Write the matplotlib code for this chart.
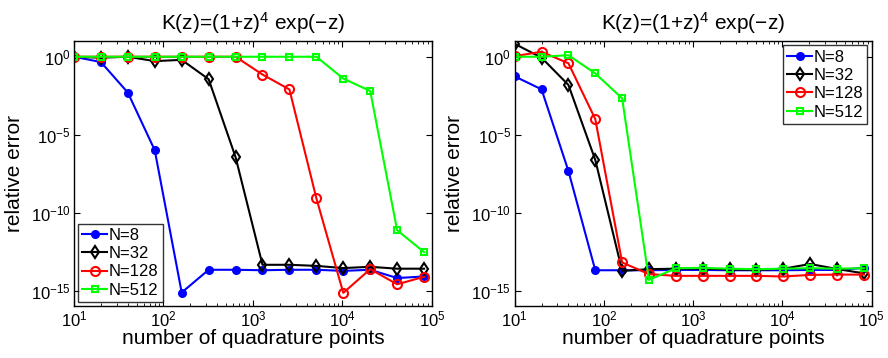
import matplotlib
matplotlib.use("Agg")
import matplotlib.pyplot as plt
from matplotlib.ticker import LogLocator, NullLocator, FixedLocator

plt.rcParams["font.family"] = ["Liberation Sans", "DejaVu Sans"]
plt.rcParams["mathtext.fontset"] = "custom"
plt.rcParams["mathtext.rm"] = "Liberation Sans"
plt.rcParams["mathtext.it"] = "Liberation Sans"
plt.rcParams["mathtext.bf"] = "Liberation Sans"

# number of quadrature points: 10 * 2^k
points = [10, 20, 40, 80, 160, 320, 640, 1280, 2560, 5120, 10240, 20480, 40960, 81920]
labels = ["N=8", "N=32", "N=128", "N=512"]

# log10 of relative error, left panel
left_log_err = [
    [0, -0.34, -2.3, -6.0, -15.13, -13.67, -13.67, -13.7, -13.67, -13.67, -13.74, -13.67, -14.2, -14.1],
    [0, -0.06, 0, -0.28, -0.2, -1.44, -6.44, -13.35, -13.35, -13.42, -13.56, -13.48, -13.6, -13.6],
    [0, 0, 0, 0, 0, 0, 0, -1.14, -2.1, -9.08, -15.15, -13.63, -14.6, -14.12],
    [0, 0, 0, 0, 0, 0, 0, 0, 0, 0, -1.4, -2.2, -11.13, -12.54],
]

# log10 of relative error, right panel
right_log_err = [
    [-1.26, -2.09, -7.33, -13.7, -13.7, -13.7, -13.68, -13.68, -13.7, -13.7, -13.7, -13.68, -13.68, -13.55],
    [0.83, -0.06, -1.81, -6.62, -13.74, -13.63, -13.6, -13.6, -13.65, -13.68, -13.6, -13.3, -13.62, -13.9],
    [0.04, 0.32, -0.42, -4.0, -13.2, -13.95, -14.06, -14.06, -14.06, -14.06, -14.1, -14.0, -13.98, -13.98],
    [0, 0, 0.1, -1.07, -2.67, -14.32, -13.57, -13.55, -13.6, -13.63, -13.6, -13.57, -13.6, -13.57],
]

colors = ["#0000ff", "#000000", "#ff0000", "#00ff00"]
markers = [".", "d", "o", "s"]
msizes = [10, 6.5, 6.5, 5]


def draw_panel(ax, data, legend_loc):
    for vals, lab, c, m, ms in zip(data, labels, colors, markers, msizes):
        y = [10.0 ** v for v in vals]
        face = c if m == "." else "none"
        ax.plot(points, y, color=c, marker=m, markersize=ms, markerfacecolor=face,
                markeredgecolor=c, markeredgewidth=1.5, linewidth=1.5, label=lab)
    ax.set_xscale("log")
    ax.set_yscale("log")
    ax.set_xlim(10, 1e5)
    ax.set_ylim(1e-16, 1e1)
    ax.xaxis.set_major_locator(LogLocator(base=10, numticks=10))
    ax.xaxis.set_minor_locator(LogLocator(base=10, subs=range(2, 10), numticks=50))
    ax.yaxis.set_major_locator(FixedLocator([1e0, 1e-5, 1e-10, 1e-15]))
    ax.yaxis.set_minor_locator(NullLocator())
    ax.tick_params(which="both", direction="in", top=True, right=True, labelsize=12, pad=2.5)
    ax.tick_params(which="major", length=4, width=0.8)
    ax.tick_params(which="minor", length=2, width=0.6)
    for s in ax.spines.values():
        s.set_linewidth(1.0)
    ax.set_title(r"K(z)=(1+z)$^4$ exp($-$z)", fontsize=15, pad=8)
    ax.set_xlabel("number of quadrature points", fontsize=15, labelpad=0)
    ax.set_ylabel("relative error", fontsize=15, labelpad=5)
    leg = ax.legend(loc=legend_loc, fontsize=12, frameon=True, fancybox=False,
                    handlelength=1.5, handletextpad=0.1, borderpad=0.25,
                    labelspacing=0.2, borderaxespad=0.25)
    leg.get_frame().set_edgecolor("black")
    leg.get_frame().set_linewidth(1.0)


fig = plt.figure(figsize=(8.88, 3.58), dpi=100)
ax1 = fig.add_axes([0.0833, 0.145, 0.403, 0.740])
ax2 = fig.add_axes([0.5796, 0.145, 0.402, 0.740])
draw_panel(ax1, left_log_err, "lower left")
draw_panel(ax2, right_log_err, "upper right")
fig.savefig("out.png", dpi=100)
